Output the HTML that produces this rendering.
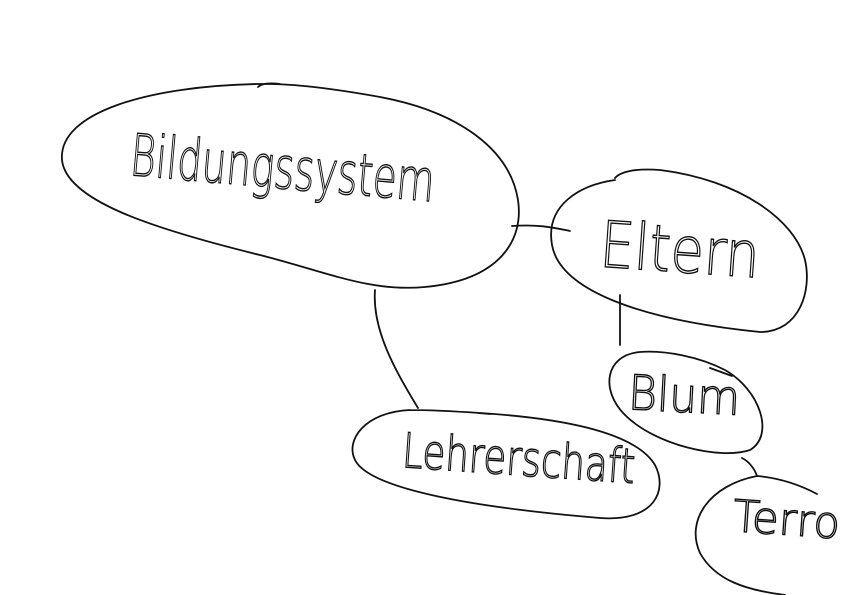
<!DOCTYPE html>
<html><head><meta charset="utf-8"><style>
html,body{margin:0;padding:0;background:#fff;width:842px;height:595px;overflow:hidden}
svg text{font-family:"DejaVu Sans","Liberation Sans",sans-serif;font-weight:200;fill:none;stroke:#111;stroke-width:1.4}
</style></head><body>
<svg width="842" height="595" viewBox="0 0 842 595" xmlns="http://www.w3.org/2000/svg">
<g fill="none" stroke="#111" stroke-width="1.8" stroke-linecap="round">
<path d="M258,84 C150,86 58,112 62,160 C66,200 150,228 260,255 C330,273 370,292 425,287 C500,280 524,240 518,200 C510,150 460,112 380,97 C330,88 290,83 258,84 M258,87 C262,83 272,83 280,84"/>
<path d="M512,226 C540,224 555,228 570,231"/>
<path d="M375,290 C372,330 395,370 418,408"/>
<path d="M615,180 C580,185 545,205 552,245 C560,290 640,320 760,332 C800,332 812,290 805,260 C795,220 740,180 660,170 C635,168 620,172 615,178"/>
<path d="M620,295 L620,345"/>
<path d="M640,352 C605,355 600,390 625,415 C655,445 720,460 750,450 C775,435 760,390 725,370 C700,357 665,350 640,352 M710,368 L732,376"/>
<path d="M742,458 C750,462 755,470 757,476"/>
<path d="M410,410 C365,412 345,440 355,460 C370,490 480,508 600,518 C655,522 668,490 655,465 C640,440 590,420 480,413 C450,411 430,410 410,410 M478,413 L490,414"/>
<path d="M757,476 C710,485 685,520 700,553 C715,580 745,590 785,595 M757,476 C780,478 800,485 817,494"/>
</g>
<text x="130" y="188" font-size="58" textLength="305" lengthAdjust="spacingAndGlyphs" transform="rotate(5 280 170)">Bildungssystem</text>
<text x="600" y="272" font-size="64" textLength="160" lengthAdjust="spacingAndGlyphs" transform="rotate(4 680 250)">Eltern</text>
<text x="628" y="412" font-size="48" textLength="112" lengthAdjust="spacingAndGlyphs" transform="rotate(3 684 400)">Blum</text>
<text x="402" y="475" font-size="48" textLength="233" lengthAdjust="spacingAndGlyphs" transform="rotate(4 518 462)">Lehrerschaft</text>
<text x="733" y="535" font-size="44" textLength="125" lengthAdjust="spacingAndGlyphs" transform="rotate(4 790 520)">Terror</text>
</svg>
</body></html>
